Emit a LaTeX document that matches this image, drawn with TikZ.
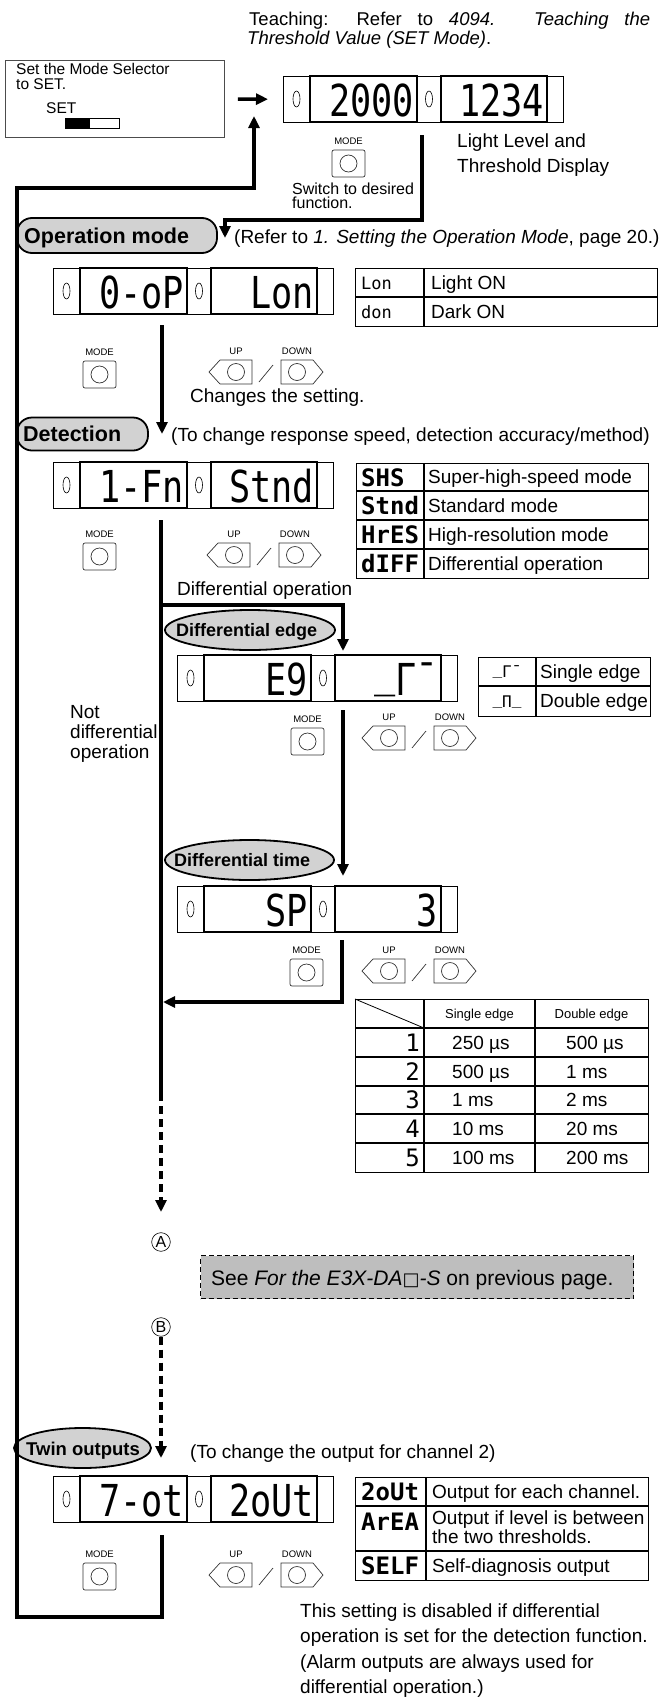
\documentclass[tikz,border=0pt]{standalone}
\usepackage{fontspec}
\setmainfont{Liberation Sans}
\newfontfamily\segfont{DejaVu Sans Mono}[FakeStretch=0.8]
\newfontfamily\segn{DejaVu Sans Mono}
\newfontfamily\dvs{DejaVu Sans}
\usetikzlibrary{arrows.meta,shapes.geometric}
\newcommand\fs[1]{\fontsize{#1}{#1}\selectfont}
\definecolor{ellgray}{RGB}{210,210,210}
\definecolor{boxgray}{RGB}{190,190,190}
\tikzset{
 flow/.style={line width=3.4pt, line join=miter},
 arr/.style={-{Triangle[length=12pt,width=11pt]}},
 dash8/.style={dash pattern=on 8pt off 5pt},
 txt/.style={anchor=base west, inner sep=0pt, font=\fs{19}},
 lcdframe/.style={draw, line width=0.8pt, minimum width=280pt, minimum height=46pt, inner sep=0pt, anchor=north west},
 lcdcell/.style={line width=1.4pt},
 led/.style={line width=0.6pt},
 segtext/.style={inner sep=0pt, anchor=base east, font=\segfont\fs{44}},
 btnbox/.style={draw=black!80, line width=0.7pt, rounded corners=2pt, minimum width=33pt, minimum height=27pt, inner sep=0pt},
 btnline/.style={draw=black!80, line width=0.7pt},
 btnlbl/.style={inner sep=0pt, anchor=base, font=\fs{9.5}},
 heading/.style={ellipse, draw, line width=1.8pt, fill=ellgray, inner sep=0pt},
 headbox/.style={rectangle, rounded corners=15pt, draw, line width=1.8pt, fill=ellgray, inner sep=0pt},
 headtxt/.style={anchor=base west, inner sep=0pt, font=\bfseries\fs{18}},
 tbl/.style={line width=1.1pt},
 tblbox/.style={draw, line width=1.1pt, inner sep=0pt, anchor=north west},
 segsmall/.style={anchor=base west, inner sep=0pt, font=\segn\fs{17}},
 segbold/.style={anchor=base west, inner sep=0pt, font=\segn\bfseries\fs{24}},
 circlbl/.style={circle, draw, line width=0.6pt, inner sep=1.2pt, font=\fs{16}},
}
\newcommand\lcd[5]{%
  \node[lcdframe] (#1) at (#2,#3) {};
  \draw[lcdcell] (#2+27,#3) rectangle (#2+134,#3+46);
  \draw[lcdcell] (#2+158,#3) rectangle (#2+264,#3+46);
  \draw[led] (#2+13.5,#3+23) ellipse [x radius=3.5pt, y radius=8pt];
  \draw[led] (#2+146,#3+23) ellipse [x radius=3.5pt, y radius=8pt];
  \node[segtext] (#1-l) at (#2+131,#3+40) {#4};
  \node[segtext] (#1-r) at (#2+261,#3+40) {#5};
}
\newcommand\modebtn[3]{%
  \node[btnbox] (#1) at (#2+16.5,#3+13.5) {};
  \draw[btnline] (#1.center) circle [radius=8.5pt];
  \node[btnlbl] (#1-l) at (#2+16.5,#3-6) {MODE};
}
\newcommand\updown[3]{%
  \node[inner sep=0pt, minimum width=114pt, minimum height=24pt, anchor=north west] (#1) at (#2,#3) {};
  \draw[btnline] (#2,#3+12) -- (#2+11,#3) -- (#2+43,#3) -- (#2+43,#3+24) -- (#2+11,#3+24) -- cycle;
  \draw[btnline] (#2+27,#3+12) circle [radius=8.5pt];
  \draw[btnline] (#2+50,#3+22) -- (#2+64,#3+5);
  \draw[btnline] (#2+72,#3) -- (#2+104,#3) -- (#2+114,#3+12) -- (#2+104,#3+24) -- (#2+72,#3+24) -- cycle;
  \draw[btnline] (#2+88,#3+12) circle [radius=8.5pt];
  \node[btnlbl] (#1-u) at (#2+27,#3-6) {UP};
  \node[btnlbl] (#1-d) at (#2+88,#3-6) {DOWN};
}
\begin{document}
\begin{tikzpicture}[x=1pt,y=-1pt]
\useasboundingbox (0,0) rectangle (662,1697);

% ---------- top ----------
\node[anchor=base west, inner sep=0pt, font=\fs{18.5}] (teach1) at (249,25)
  {\makebox[401pt][s]{Teaching: Refer to \textit{4094. Teaching the}}};
\node[anchor=base west, inner sep=0pt, font=\fs{18.5}] (teach2) at (247,44)
  {\textit{Threshold Value (SET Mode)}.};

\node[draw=black!70, line width=0.8pt, minimum width=219pt, minimum height=77pt, anchor=north west, inner sep=0pt] (setbox) at (5,60) {};
\node[txt, font=\fs{15.5}] (st1) at (16,74) {Set the Mode Selector};
\node[txt, font=\fs{15.5}] (st2) at (16,89) {to SET.};
\node[txt, font=\fs{15.5}] (st3) at (46,113) {SET};
\node[draw, line width=0.8pt, minimum width=54pt, minimum height=10pt, anchor=north west, inner sep=0pt] (sw) at (65,118) {};
\fill (65,118) rectangle (90,128);

\lcd{d1}{283}{76}{2000}{1234}
\draw[flow,arr,shorten <=13pt,shorten >=15pt] (setbox) -- (d1);
\modebtn{m1}{332}{150}
\node[txt, font=\fs{16}] (sw1) at (292,194) {Switch to desired};
\node[txt, font=\fs{16}] (sw2) at (292,208) {function.};
\node[txt] (ll1) at (457,147) {Light Level and};
\node[txt] (ll2) at (457,172) {Threshold Display};

% ---------- operation mode ----------
\node[headbox, minimum width=200pt, minimum height=35pt] (eop) at (117,235.5) {};
\node[headtxt, font=\bfseries\fs{21.5}] (top) at (24,243) {Operation mode};
\node[txt] (rop) at (234,243) {(Refer to \textit{1. Setting the Operation Mode}, page 20.)};
\coordinate (c1a) at (422,135);
\coordinate (c1b) at (422,220);
\coordinate (c1c) at (225,220);
\coordinate (c1d) at (225,238);
\draw[flow,arr] (c1a) -- (c1b) -- (c1c) -- (c1d);

\lcd{d2}{53}{268}{0-oP}{Lon}
\node[tblbox, minimum width=302pt, minimum height=58pt] (t1) at (355,268) {};
\draw[tbl] (355,297) -- (657,297);
\draw[tbl] (424,268) -- (424,326);
\node[segsmall] (t1a) at (361,289) {Lon};
\node[segsmall] (t1b) at (361,318) {don};
\node[txt] (t1c) at (431,289) {Light ON};
\node[txt] (t1d) at (431,318) {Dark ON};
\modebtn{m2}{83}{361}
\updown{u2}{209}{360}
\node[txt] (chg) at (190,402) {Changes the setting.};

% ---------- detection ----------
\coordinate (c2a) at (162,325);
\coordinate (c2b) at (162,434);
\draw[flow,arr] (c2a) -- (c2b);
\node[headbox, minimum width=131pt, minimum height=33pt] (edet) at (82.5,434) {};
\node[headtxt, font=\bfseries\fs{21.5}] (tdet) at (23,441) {Detection};
\node[txt] (rdet) at (171,441) {(To change response speed, detection accuracy/method)};

\lcd{d3}{53}{462}{1-Fn}{Stnd}
\node[tblbox, minimum width=292pt, minimum height=115pt] (t2) at (356,463) {};
\draw[tbl] (356,491) -- (648,491);
\draw[tbl] (356,520) -- (648,520);
\draw[tbl] (356,549) -- (648,549);
\draw[tbl] (424,463) -- (424,578);
\node[segbold] (t2a) at (361,486) {SHS};
\node[segbold] (t2b) at (361,514) {Stnd};
\node[segbold] (t2c) at (361,543) {HrES};
\node[segbold] (t2d) at (361,572) {dIFF};
\node[txt] (t2e) at (428,483.5) {Super-high-speed mode};
\node[txt] (t2f) at (428,512) {Standard mode};
\node[txt] (t2g) at (428,541) {High-resolution mode};
\node[txt] (t2h) at (428,570) {Differential operation};
\modebtn{m3}{83}{543}
\updown{u3}{207}{543}
\node[txt] (dop) at (177,595) {Differential operation};

\coordinate (c3a) at (161,520);
\coordinate (c3b) at (161,1093);
\coordinate (c3c) at (161,1212);
\coordinate (c3d) at (161,605);
\coordinate (c3e) at (343,605);
\coordinate (c3f) at (343,651);
\draw[flow] (c3a) -- (c3b);
\draw[flow,dash8,arr] (c3b) -- (c3c);
\draw[flow,arr] (c3d) -- (c3e) -- (c3f);

% ---------- differential edge ----------
\node[heading, minimum width=170pt, minimum height=40pt] (eedg) at (250,630) {};
\node[headtxt] (tedg) at (176,636) {Differential edge};
\lcd{d4}{177}{655}{E9}{\raisebox{9pt}{\_}Γ¯}
\node[tblbox, minimum width=172pt, minimum height=59pt] (t3) at (478,657) {};
\draw[tbl] (478,686) -- (650,686);
\draw[tbl] (536,657) -- (536,716);
\node[anchor=base, inner sep=0pt, font=\segn\fs{16}] (t3a) at (507,677) {\raisebox{3pt}{\_}Γ¯};
\node[anchor=base, inner sep=0pt, font=\segn\fs{16}] (t3b) at (507,707) {\raisebox{3pt}{\_}Π\raisebox{3pt}{\_}};
\node[txt] (t3c) at (540,678) {Single edge};
\node[txt] (t3d) at (540,707.5) {Double edge};
\modebtn{m4}{291}{728}
\updown{u4}{362}{726}
\node[txt] (nd1) at (70,718) {Not};
\node[txt] (nd2) at (70,738) {differential};
\node[txt] (nd3) at (70,758) {operation};

\coordinate (c4a) at (343,710);
\coordinate (c4b) at (343,876);
\draw[flow,arr] (c4a) -- (c4b);

% ---------- differential time ----------
\node[heading, minimum width=169pt, minimum height=40pt] (etim) at (249.5,860) {};
\node[headtxt] (ttim) at (174,866) {Differential time};
\lcd{d5}{177}{886}{SP}{3}
\modebtn{m5}{290}{959}
\updown{u5}{362}{959}
\coordinate (c5a) at (342,940);
\coordinate (c5b) at (342,1002);
\coordinate (c5c) at (163,1002);
\draw[flow,arr] (c5a) -- (c5b) -- (c5c);

\node[tblbox, minimum width=293pt, minimum height=173pt] (t4) at (355,999) {};
\foreach \yy in {1028,1057,1086,1114,1143} \draw[tbl] (355,\yy) -- (648,\yy);
\draw[tbl] (424,999) -- (424,1172);
\draw[tbl] (535,999) -- (535,1172);
\draw[line width=0.8pt] (t4.north west) -- (424,1028);
\node[anchor=base, inner sep=0pt, font=\fs{13}] (h1) at (479.5,1018) {Single edge};
\node[anchor=base, inner sep=0pt, font=\fs{13}] (h2) at (591.5,1018) {Double edge};
\node[anchor=base east, inner sep=0pt, font=\segn\fs{24}] (n1) at (420,1051) {1};
\node[anchor=base east, inner sep=0pt, font=\segn\fs{24}] (n2) at (420,1080) {2};
\node[anchor=base east, inner sep=0pt, font=\segn\fs{24}] (n3) at (420,1108.5) {3};
\node[anchor=base east, inner sep=0pt, font=\segn\fs{24}] (n4) at (420,1137) {4};
\node[anchor=base east, inner sep=0pt, font=\segn\fs{24}] (n5) at (420,1166) {5};
\node[txt] (v1a) at (452,1049) {250 µs};
\node[txt] (v2a) at (452,1078) {500 µs};
\node[txt] (v3a) at (452,1106.5) {1 ms};
\node[txt] (v4a) at (452,1135) {10 ms};
\node[txt] (v5a) at (452,1164) {100 ms};
\node[txt] (v1b) at (566,1049) {500 µs};
\node[txt] (v2b) at (566,1078) {1 ms};
\node[txt] (v3b) at (566,1106.5) {2 ms};
\node[txt] (v4b) at (566,1135) {20 ms};
\node[txt] (v5b) at (566,1164) {200 ms};

% ---------- A / B ----------
\node[circlbl] (ca) at (161,1242) {A};
\node[draw, fill=boxgray, dash pattern=on 5pt off 3pt, line width=1pt, minimum width=433pt, minimum height=43pt, anchor=north west, inner sep=0pt] (see) at (200,1255) {};
\node[txt, font=\fs{21}] (seet) at (211,1285) {See \textit{For the E3X-DA}{\dvs\fs{18}□}\textit{-S} on previous page.};
\node[circlbl] (cb) at (161,1327) {B};
\coordinate (c6b) at (161,1458);
\draw[flow,dash8,arr] (cb.south) -- (c6b);

% ---------- twin outputs ----------
\node[heading, minimum width=137pt, minimum height=40pt] (etwn) at (82.5,1448) {};
\node[headtxt, font=\bfseries\fs{18.5}] (ttwn) at (26,1455) {Twin outputs};
\node[txt] (rtwn) at (190,1458) {(To change the output for channel 2)};
\lcd{d6}{53}{1476}{7-ot}{2oUt}
\node[tblbox, minimum width=293pt, minimum height=103pt] (t5) at (355,1477) {};
\draw[tbl] (355,1506) -- (648,1506);
\draw[tbl] (355,1551) -- (648,1551);
\draw[tbl] (426,1477) -- (426,1580);
\node[segbold] (t5a) at (361,1500) {2oUt};
\node[segbold] (t5b) at (361,1530) {ArEA};
\node[segbold] (t5c) at (361,1574) {SELF};
\node[txt] (t5d) at (432,1498) {Output for each channel.};
\node[txt] (t5e) at (432,1524) {Output if level is between};
\node[txt] (t5f) at (432,1543) {the two thresholds.};
\node[txt] (t5g) at (432,1572) {Self-diagnosis output};
\modebtn{m6}{83}{1563}
\updown{u6}{209}{1563}

\coordinate (c7a) at (162,1535);
\coordinate (c7b) at (162,1617);
\coordinate (c7c) at (17,1617);
\coordinate (c7d) at (17,188);
\coordinate (c7e) at (254,188);
\coordinate (c7f) at (254,116);
\draw[flow,arr] (c7a) -- (c7b) -- (c7c) -- (c7d) -- (c7e) -- (c7f);

\node[txt] (nt1) at (300,1617) {This setting is disabled if differential};
\node[txt] (nt2) at (300,1642.5) {operation is set for the detection function.};
\node[txt] (nt3) at (300,1668) {(Alarm outputs are always used for};
\node[txt] (nt4) at (300,1693.5) {differential operation.)};
\end{tikzpicture}
\end{document}
